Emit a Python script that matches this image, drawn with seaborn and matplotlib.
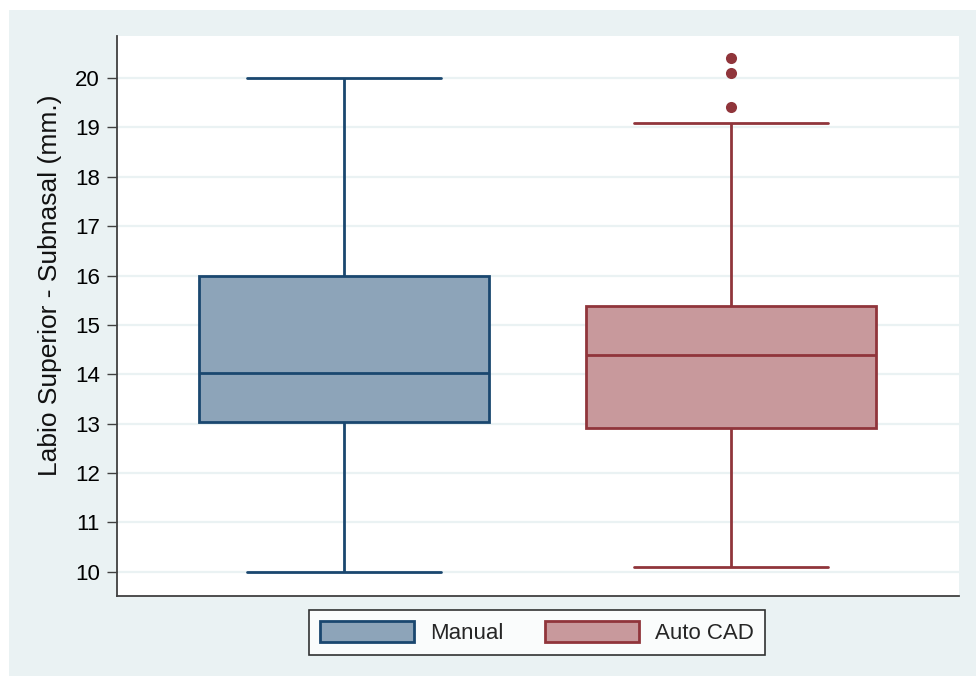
import matplotlib
matplotlib.use("Agg")
import matplotlib.pyplot as plt
from matplotlib.patches import Patch, Rectangle
import seaborn as sns
import pandas as pd

# ---- data ----
groups = ["Manual", "Auto CAD"]
manual_summary = [10.0, 13.03, 14.02, 16.0, 20.0]   # whisker low, Q1, median, Q3, whisker high
autocad_summary = [10.1, 12.92, 14.39, 15.38, 19.09]
autocad_outliers = [19.41, 20.10, 20.40]
yticks = [10, 11, 12, 13, 14, 15, 16, 17, 18, 19, 20]

fills = ["#8DA4B9", "#C8999C"]
edges = ["#1A476F", "#90353B"]
bg = "#EAF2F3"

sns.set_theme(style="white")
plt.rcParams["font.family"] = ["Liberation Sans", "DejaVu Sans"]

fig = plt.figure(figsize=(9.76, 6.76), dpi=100, facecolor="white")
fig.patches.append(Rectangle((9 / 976, 0), 1 - 9 / 976, 1 - 10 / 676,
                             transform=fig.transFigure, facecolor=bg,
                             edgecolor="none", zorder=-10))
ax = fig.add_axes([117 / 976, 80 / 676, (959 - 117) / 976, (596 - 36) / 676])
ax.set_facecolor("white")

df_m = pd.DataFrame({"group": groups[0], "value": manual_summary})
df_a = pd.DataFrame({"group": groups[1], "value": autocad_summary})
df_o = pd.DataFrame({"group": groups[1], "value": autocad_outliers})

for df, fc, ec in [(df_m, fills[0], edges[0]), (df_a, fills[1], edges[1])]:
    sns.boxplot(data=df, x="group", y="value", order=groups, ax=ax,
                color=fc, linecolor=ec, saturation=1, width=0.75,
                linewidth=2, whis=(0, 100), showfliers=False,
                capwidths=0.5, zorder=3)

sns.stripplot(data=df_o, x="group", y="value", order=groups, ax=ax,
              jitter=False, color=edges[1], size=8, linewidth=0, zorder=4)

ax.set_xlim(-0.587, 1.589)
ax.set_ylim(9.51, 20.85)
ax.set_yticks(yticks)
ax.set_yticklabels([str(t) for t in yticks], fontsize=16)
ax.set_xticks([])
ax.set_xlabel("")
ax.set_ylabel("Labio Superior - Subnasal (mm.)", fontsize=19, color="#111111")
ax.yaxis.set_label_coords((62 - 117) / 842, (596 - 285) / 560)
ax.yaxis.grid(True, color=bg, linewidth=1.6, zorder=0)
ax.set_axisbelow(True)
for s in ["top", "right"]:
    ax.spines[s].set_visible(False)
for s in ["left", "bottom"]:
    ax.spines[s].set_color("#404040")
    ax.spines[s].set_linewidth(1.3)
ax.tick_params(axis="y", which="major", left=True, length=7.2, width=1,
               color="#404040", pad=5, labelcolor="black")

handles = [Patch(facecolor=fills[i], edgecolor=edges[i], linewidth=2, label=groups[i])
           for i in range(2)]
leg = fig.legend(handles=handles, loc="center", bbox_to_anchor=(537 / 976, 43.5 / 676),
                 ncol=2, fontsize=16, frameon=True, fancybox=False,
                 handlelength=4.23, handleheight=1.04, handletextpad=0.72,
                 columnspacing=1.9, borderpad=0.5)
leg.get_frame().set_edgecolor("black")
leg.get_frame().set_linewidth(1.2)
leg.get_frame().set_facecolor("white")

fig.savefig("out.png", dpi=100, facecolor="white")
